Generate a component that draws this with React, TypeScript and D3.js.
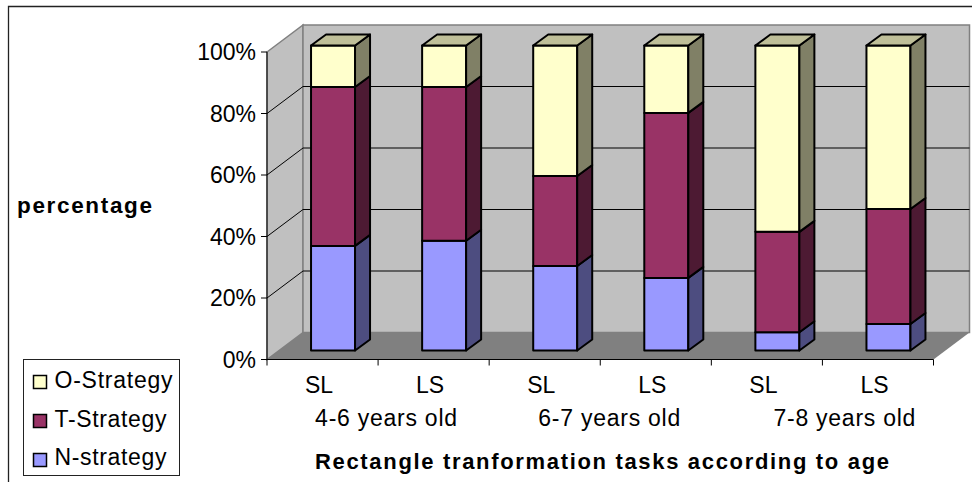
import React from "react";
import * as d3 from "d3";

const tasks = ["SL", "LS", "SL", "LS", "SL", "LS"];
const ageGroups = ["4-6 years old", "6-7 years old", "7-8 years old"];
const nStrategy = [34.3, 36, 27.7, 23.8, 6, 8.7];
const tStrategy = [52.1, 50.4, 29.5, 54.1, 32.9, 37.7];
const oStrategy = [13.6, 13.6, 42.8, 22.1, 61.1, 53.6];
const yTicks = [0, 20, 40, 60, 80, 100];
const seriesNames = ["N-strategy", "T-Strategy", "O-Strategy"];
const seriesData = [nStrategy, tStrategy, oStrategy];
const frontColors = ["#9999ff", "#993366", "#ffffcc"];
const sideColors = ["#4d4d80", "#4d1a33", "#808066"];
const topColor = "#bfbf99";
const legendOrder = [2, 1, 0];
const legendWidths = [112, 112, 118];
const groupNudge = [8, 9, 22];

const FONT = "'Liberation Sans', Arial, sans-serif";
const depth = { x: 36, y: -27 };
const barDepth = { x: 15, y: -11 };

const x = d3.scaleBand<number>().domain(d3.range(6)).range([267, 933.5]);
const y = d3.scaleLinear().domain([0, 100]).range([359.5, 52]);
const yBar = d3.scaleLinear().domain([0, 100]).range([350.5, 45.5]);
const barWidth = 44;
const pts = (p: number[][]) => p.map((q) => q.join(",")).join(" ");

export default function App() {
  const x0 = x.range()[0];
  const x1 = x.range()[1];
  const yB = y(0);
  const yT = y(100);
  const stacks = tasks.map((_, i) => {
    let acc = 0;
    return seriesData.map((s) => {
      const lo = acc;
      acc += s[i];
      return { lo, hi: acc };
    });
  });
  return (
    <svg width={972} height={482} style={{ position: "absolute", left: 0, top: 0, background: "#fff" }} fontFamily={FONT}>
      <path d="M8.5 482V6.5H972" fill="none" stroke="#222" strokeWidth={1.3} />

      <polygon points={pts([[x0, yT], [x0 + depth.x, yT + depth.y], [x0 + depth.x, yB + depth.y], [x0, yB]])} fill="#c0c0c0" stroke="#808080" strokeWidth={1.5} />
      <rect x={x0 + depth.x} y={yT + depth.y} width={x1 - x0} height={yB - yT} fill="#c0c0c0" stroke="#808080" strokeWidth={1.5} />
      <polygon points={pts([[x0, yB], [x0 + depth.x, yB + depth.y], [x1 + depth.x, yB + depth.y], [x1, yB]])} fill="#808080" />

      {yTicks.map((t) => (
        <g key={t}>
          {t > 0 && t < 100 && (
            <polyline points={pts([[x0, y(t)], [x0 + depth.x, y(t) + depth.y], [x1 + depth.x, y(t) + depth.y]])} fill="none" stroke="#000" strokeWidth={1} />
          )}
          <line x1={x0 - 6} x2={x0} y1={y(t)} y2={y(t)} stroke="#000" />
          <text x={x0 - 11} y={y(t) + 8} textAnchor="end" fontSize={23} fill="#000">{t}%</text>
        </g>
      ))}
      <line x1={x0} x2={x0} y1={yT} y2={yB} stroke="#000" />
      <line x1={x0} x2={x1} y1={yB} y2={yB} stroke="#000" />
      {d3.range(7).map((i) => {
        const tx = x0 + i * x.step();
        return <line key={i} x1={tx} x2={tx} y1={yB} y2={yB + 6} stroke="#000" />;
      })}

      {stacks.map((stack, i) => {
        const bx = (x(i) as number) + x.bandwidth() / 2 - barWidth / 2 + 10.5;
        const rx = bx + barWidth;
        return (
          <g key={i} stroke="#000" strokeWidth={2} strokeLinejoin="round">
            {stack.map((seg, k) => {
              const a = yBar(seg.lo);
              const b = yBar(seg.hi);
              return (
                <g key={k}>
                  <rect x={bx} y={b} width={barWidth} height={a - b} fill={frontColors[k]} />
                  <polygon points={pts([[rx, a], [rx + barDepth.x, a + barDepth.y], [rx + barDepth.x, b + barDepth.y], [rx, b]])} fill={sideColors[k]} />
                  {k === stack.length - 1 && (
                    <polygon points={pts([[bx, b], [bx + barDepth.x, b + barDepth.y], [rx + barDepth.x, b + barDepth.y], [rx, b]])} fill={topColor} />
                  )}
                </g>
              );
            })}
          </g>
        );
      })}

      {tasks.map((t, i) => (
        <text key={i} x={(x(i) as number) + x.bandwidth() / 2 - 3.5} y={393} textAnchor="middle" fontSize={23} fill="#000">{t}</text>
      ))}
      {ageGroups.map((g, i) => (
        <text key={g} x={x0 + x.step() * (2 * i + 1) + groupNudge[i]} y={426} textAnchor="middle" fontSize={23} fill="#000" textLength={142}>{g}</text>
      ))}
      <text x={17} y={213} fontSize={22.5} fontWeight="bold" fill="#000" textLength={135}>percentage</text>
      <text x={315} y={469} fontSize={22} fontWeight="bold" fill="#000" textLength={574}>Rectangle tranformation tasks according to age</text>

      <rect x={23.5} y={359.5} width={156} height={116} fill="#fff" stroke="#222" strokeWidth={1} />
      {legendOrder.map((k, i) => (
        <g key={k}>
          <rect x={33.5} y={375.5 + i * 39} width={13} height={13} fill={frontColors[k]} stroke="#000" strokeWidth={1.5} />
          <text x={54.5} y={388 + i * 38.5} fontSize={23} fill="#000" textLength={legendWidths[k]}>{seriesNames[k]}</text>
        </g>
      ))}
    </svg>
  );
}
